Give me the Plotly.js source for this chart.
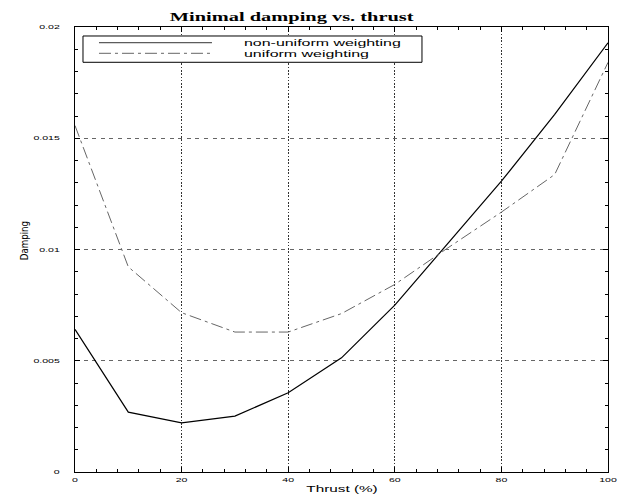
<!DOCTYPE html>
<html>
<head>
<meta charset="utf-8">
<script src="https://cdn.plot.ly/plotly-3.0.1.min.js"></script>
<style>
html,body{margin:0;padding:0;background:#fff;}
#chart{width:631px;height:500px;}
</style>
</head>
<body>
<div id="chart"></div>
<script>
// Data
const thrust = [0, 10, 20, 30, 40, 50, 60, 70, 80, 90, 100];
const nonUniform = [0.00641, 0.00269, 0.00221, 0.00251, 0.00356, 0.00513, 0.00750, 0.01027, 0.01307, 0.01607, 0.01929];
const uniform = [0.01557, 0.00922, 0.00716, 0.00629, 0.00629, 0.00712, 0.00843, 0.01008, 0.01168, 0.01337, 0.01841];
const seriesNames = ['non-uniform weighting', 'uniform weighting'];
const xTickVals = [0, 20, 40, 60, 80, 100];
const xTickText = ['0', '20', '40', '60', '80', '100'];
const yTickVals = [0, 0.005, 0.01, 0.015, 0.02];
const yTickText = ['0', '0.005', '0.01', '0.015', '0.02'];
const chartTitle = 'Minimal damping vs. thrust';
const xTitle = 'Thrust (%)';
const yTitle = 'Damping';

// Styling
const sans = 'Liberation Sans, Arial, sans-serif';
const serif = 'Liberation Serif, Times New Roman, serif';
const narrow = 'Liberation Sans Narrow, DejaVu Sans Condensed, sans-serif';
const uniformDash = '12px,4px,3px,4px';
const STRETCH = 1.7; // the reference text is stretched horizontally

const traces = [
  {x: thrust, y: nonUniform, mode: 'lines', name: seriesNames[0],
   line: {color: '#000', width: 1.2}, showlegend: false},
  {x: thrust, y: uniform, mode: 'lines', name: seriesNames[1],
   line: {color: '#666', width: 1, dash: uniformDash}, showlegend: false}
];

// Manual legend (box, samples, text) in paper coordinates
const legendShapes = [
  {type: 'rect', xref: 'paper', yref: 'paper', x0: 0.015, x1: 0.651, y0: 0.9207, y1: 0.9798,
   line: {color: '#000', width: 1}, fillcolor: '#fff', layer: 'above'},
  {type: 'line', xref: 'paper', yref: 'paper', x0: 0.045, x1: 0.257, y0: 0.9647, y1: 0.9647,
   line: {color: '#333', width: 1}, layer: 'above'},
  {type: 'line', xref: 'paper', yref: 'paper', x0: 0.045, x1: 0.257, y0: 0.9409, y1: 0.9409,
   line: {color: '#666', width: 1, dash: uniformDash}, layer: 'above'}
];
const annotations = [
  {xref: 'paper', yref: 'paper', x: 0.313, y: 0.9647, xanchor: 'left', yanchor: 'middle', align: 'left',
   text: seriesNames[0], showarrow: false, font: {family: sans, size: 9.4, color: '#000'}},
  {xref: 'paper', yref: 'paper', x: 0.313, y: 0.9409, xanchor: 'left', yanchor: 'middle', align: 'left',
   text: seriesNames[1], showarrow: false, font: {family: sans, size: 9.4, color: '#000'}},
  {xref: 'paper', yref: 'paper', x: 0.5, y: -0.038, xanchor: 'center', yanchor: 'middle',
   text: xTitle, showarrow: false, font: {family: sans, size: 9, color: '#000'}},
  {xref: 'paper', yref: 'paper', x: -0.0957, y: 0.521, xanchor: 'center', yanchor: 'middle',
   text: yTitle, textangle: -90, showarrow: false, font: {family: narrow, size: 9.6, color: '#000'}}
];

const layout = {
  width: 631, height: 500,
  margin: {l: 75, r: 23, t: 27, b: 28},
  paper_bgcolor: '#fff', plot_bgcolor: '#fff',
  showlegend: false,
  title: {text: chartTitle, x: 0.178, xref: 'paper', xanchor: 'left',
          y: 1 - 17/500, yref: 'container', yanchor: 'middle',
          font: {family: serif, size: 12, weight: 'bold', color: '#000'}},
  xaxis: {
    range: [0, 100], tickvals: xTickVals, ticktext: xTickText,
    ticks: 'inside', ticklen: 5, tickcolor: '#000', tickwidth: 1,
    showline: true, linecolor: '#000', linewidth: 1, mirror: 'ticks',
    showgrid: true, gridcolor: '#333', griddash: '1.6px,1.7px', gridwidth: 1,
    zeroline: false,
    minor: {dtick: 4, ticks: 'inside', ticklen: 3, tickcolor: '#000', showgrid: false},
    tickfont: {family: sans, size: 6.2, color: '#000'},
    ticklabelstandoff: 2,
    automargin: false
  },
  yaxis: {
    range: [0, 0.02], tickvals: yTickVals, ticktext: yTickText,
    ticks: 'inside', ticklen: 5, tickcolor: '#000', tickwidth: 1,
    showline: true, linecolor: '#000', linewidth: 1, mirror: 'ticks',
    showgrid: true, gridcolor: '#666', griddash: '4px,4.6px', gridwidth: 1,
    zeroline: false,
    minor: {dtick: 0.001, ticks: 'inside', ticklen: 3, tickcolor: '#000', showgrid: false},
    tickfont: {family: sans, size: 6.2, color: '#000'},
    ticklabelstandoff: 13,
    automargin: false
  },
  shapes: legendShapes,
  annotations: annotations
};

Plotly.newPlot('chart', traces, layout, {displayModeBar: false, staticPlot: true}).then(function (gd) {
  // Reproduce the horizontally stretched lettering of the reference
  const sel = gd.querySelectorAll('.gtitle, .xtick text, .ytick text, .annotation-text');
  sel.forEach(function (t) {
    if (t.textContent === yTitle) return;
    const w = t.getComputedTextLength();
    if (w > 0) {
      t.setAttribute('textLength', (w * STRETCH).toFixed(2));
      t.setAttribute('lengthAdjust', 'spacingAndGlyphs');
    }
  });
});
</script>
</body>
</html>
